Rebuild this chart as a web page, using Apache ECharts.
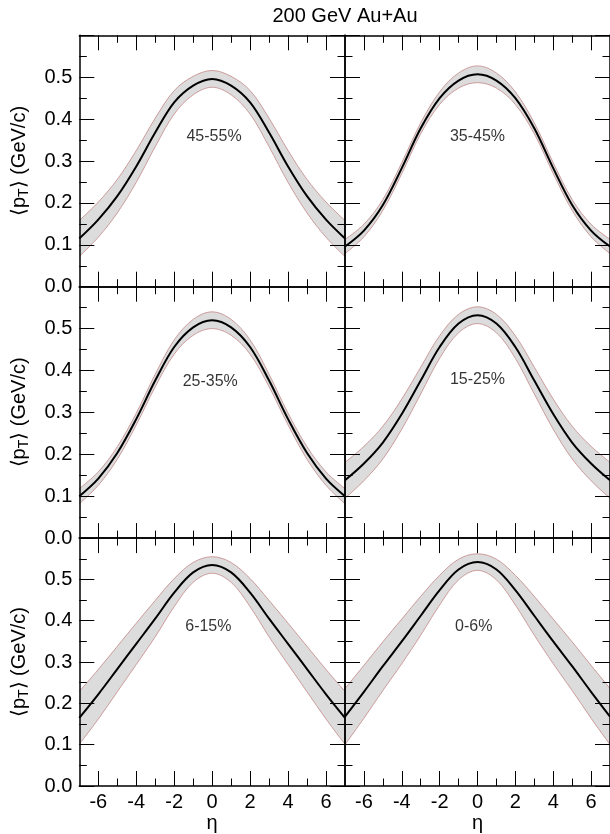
<!DOCTYPE html>
<html><head><meta charset="utf-8">
<script src="https://cdn.jsdelivr.net/npm/echarts@6/dist/echarts.min.js"></script>
<style>html,body{margin:0;padding:0;background:#fff}#c{width:610px;height:834px}</style>
</head><body><div id="c"></div>
<script>
// pseudorapidity grid
const eta = [-7,-6,-5,-4,-3,-2,-1,0,1,2,3,4,5,6,7];
const panelLabels = ['45-55%','35-45%','25-35%','15-25%','6-15%','0-6%'];

// mean pT (GeV/c) and band half-widths
const mean_45_55 = [0.115,0.160,0.216,0.287,0.368,0.440,0.480,0.496,0.480,0.440,0.368,0.287,0.216,0.160,0.115];
const err_45_55  = [0.043,0.042,0.040,0.038,0.034,0.028,0.022,0.020,0.022,0.028,0.034,0.038,0.040,0.042,0.043];
const mean_35_45 = [0.096,0.134,0.195,0.283,0.378,0.450,0.492,0.507,0.492,0.450,0.378,0.283,0.195,0.134,0.096];
const err_35_45  = [0.017,0.015,0.013,0.013,0.013,0.015,0.018,0.020,0.018,0.015,0.013,0.013,0.013,0.015,0.017];
const mean_25_35 = [0.100,0.142,0.203,0.284,0.376,0.456,0.503,0.520,0.503,0.456,0.376,0.284,0.203,0.142,0.100];
const err_25_35  = [0.018,0.016,0.015,0.014,0.015,0.017,0.019,0.020,0.019,0.017,0.015,0.014,0.015,0.016,0.018];
const mean_15_25 = [0.138,0.178,0.228,0.296,0.376,0.456,0.512,0.532,0.512,0.456,0.376,0.296,0.228,0.178,0.138];
const err_15_25  = [0.043,0.041,0.039,0.036,0.032,0.027,0.022,0.020,0.022,0.027,0.032,0.036,0.039,0.041,0.043];
const mean_06_15 = [0.165,0.222,0.283,0.344,0.405,0.468,0.517,0.535,0.517,0.468,0.405,0.344,0.283,0.222,0.165];
const err_06_15  = [0.064,0.060,0.055,0.050,0.044,0.034,0.024,0.020,0.024,0.034,0.044,0.050,0.055,0.060,0.064];
const mean_00_06 = [0.168,0.228,0.290,0.350,0.412,0.474,0.524,0.542,0.524,0.474,0.412,0.350,0.290,0.228,0.168];
const err_00_06  = [0.068,0.064,0.059,0.054,0.047,0.036,0.025,0.020,0.025,0.036,0.047,0.054,0.059,0.064,0.068];

// label anchor positions [eta, <pT>]
const labelEta = [0.1, 0.0, -0.1, 0.0, -0.2, -0.2];
const labelVal = [0.358, 0.358, 0.373, 0.379, 0.387, 0.385];

const xMajorTicks = [-6,-4,-2,0,2,4,6];
const xMinorTicks = [-5,-3,-1,1,3,5];

const means = [mean_45_55, mean_35_45, mean_25_35, mean_15_25, mean_06_15, mean_00_06];
const errs  = [err_45_55, err_35_45, err_25_35, err_15_25, err_06_15, err_00_06];

const cols = [{left:79.3,width:265.7},{left:345,width:265.7}];
const rows = [{top:35.3,height:251.4},{top:286.7,height:251.4},{top:538.1,height:251.4}];

const FONT = 'Liberation Sans, Arial, sans-serif';
const grid = [], xAxis = [], yAxis = [], series = [];

for (let i = 0; i < 6; i++) {
  const r = Math.floor(i/2), c = i % 2;
  grid.push({left: cols[c].left, width: cols[c].width, top: rows[r].top, height: rows[r].height, containLabel: false});
  const baseX = {gridIndex: i, type: 'value', min: -7, max: 7, interval: 1, splitLine: {show: false}, z: 10};
  const line = {show: true, onZero: false, lineStyle: {color: '#000', width: 1.5}};
  const noLine = {show: false, onZero: false};
  xAxis.push(Object.assign({}, baseX, {
    position: 'bottom', axisLine: line,
    axisTick: {show: true, inside: true, length: 15, customValues: xMajorTicks, lineStyle: {color: '#000', width: 1}},
    axisLabel: {show: r === 2, customValues: xMajorTicks, fontSize: 20, color: '#000', fontFamily: FONT, margin: 6},
    name: r === 2 ? 'η' : '', nameLocation: 'middle', nameGap: 27,
    nameTextStyle: {fontSize: 20, color: '#000', fontFamily: FONT}
  }));
  xAxis.push(Object.assign({}, baseX, {
    position: 'top', axisLine: line,
    axisTick: {show: true, inside: true, length: 15, customValues: xMajorTicks, lineStyle: {color: '#000', width: 1}},
    axisLabel: {show: false}
  }));
  xAxis.push(Object.assign({}, baseX, {
    position: 'bottom', axisLine: noLine,
    axisTick: {show: true, inside: true, length: 7.5, customValues: xMinorTicks, lineStyle: {color: '#000', width: 1}},
    axisLabel: {show: false}
  }));
  xAxis.push(Object.assign({}, baseX, {
    position: 'top', axisLine: noLine,
    axisTick: {show: true, inside: true, length: 7.5, customValues: xMinorTicks, lineStyle: {color: '#000', width: 1}},
    axisLabel: {show: false}
  }));
  const baseY = {gridIndex: i, type: 'value', min: 0, max: 0.6, interval: 0.1, splitLine: {show: false}, z: 10,
    axisLine: line,
    axisTick: {show: true, inside: true, length: 15, lineStyle: {color: '#000', width: 1}},
    minorTick: {show: true, splitNumber: 2, length: 7.5, lineStyle: {color: '#000', width: 1}}};
  yAxis.push(Object.assign({}, baseY, {
    position: 'left',
    axisLabel: {show: c === 0, showMaxLabel: false, formatter: v => v.toFixed(1), fontSize: 20, color: '#000', fontFamily: FONT, margin: 7},
    name: c === 0 ? '⟨p{s|T}⟩ (GeV/c)' : '', nameLocation: 'middle', nameRotate: 90, nameGap: 48,
    nameTextStyle: {fontSize: 20, color: '#000', fontFamily: FONT, lineHeight: 24,
      rich: {s: {fontSize: 14, lineHeight: 13, verticalAlign: 'bottom', color: '#000', fontFamily: FONT}}}
  }));
  yAxis.push(Object.assign({}, baseY, {position: 'right', axisLabel: {show: false}}));

  const m = means[i], e = errs[i];
  const xi = 4*i, yi = 2*i;
  const common = {type: 'line', xAxisIndex: xi, yAxisIndex: yi, smooth: 0.35, symbol: 'none', animation: false, silent: true};
  // band: grey fill to axis under upper edge, then white fill under lower edge
  series.push(Object.assign({}, common, {z: 2, data: eta.map((x,k) => [x, m[k]+e[k]]), lineStyle: {width: 0, opacity: 0},
    areaStyle: {color: '#dcdcdc', opacity: 1, origin: 'start'}}));
  series.push(Object.assign({}, common, {z: 3, data: eta.map((x,k) => [x, m[k]-e[k]]), lineStyle: {width: 0, opacity: 0},
    areaStyle: {color: '#ffffff', opacity: 1, origin: 'start'}}));
  series.push(Object.assign({}, common, {z: 4, data: eta.map((x,k) => [x, m[k]-e[k]]), lineStyle: {color: '#c48888', width: 0.8}}));
  series.push(Object.assign({}, common, {z: 4, data: eta.map((x,k) => [x, m[k]+e[k]]), lineStyle: {color: '#c48888', width: 0.8}}));
  series.push(Object.assign({}, common, {z: 5, data: eta.map((x,k) => [x, m[k]]), lineStyle: {color: '#000', width: 2}}));
  series.push({type: 'scatter', xAxisIndex: xi, yAxisIndex: yi, symbolSize: 0, animation: false, silent: true, z: 20,
    data: [[labelEta[i], labelVal[i]]],
    label: {show: true, position: 'inside', formatter: panelLabels[i], fontSize: 16, color: '#000', fontFamily: FONT}});
}

const chart = echarts.init(document.getElementById('c'), null, {renderer: 'canvas'});
chart.setOption({
  animation: false,
  backgroundColor: '#fff',
  grid, xAxis, yAxis, series,
  graphic: [{type: 'text', x: 345, y: 16, style: {text: '200 GeV Au+Au', fontSize: 20, fontFamily: FONT, fill: '#000', align: 'center', verticalAlign: 'middle'}}]
});
</script></body></html>
